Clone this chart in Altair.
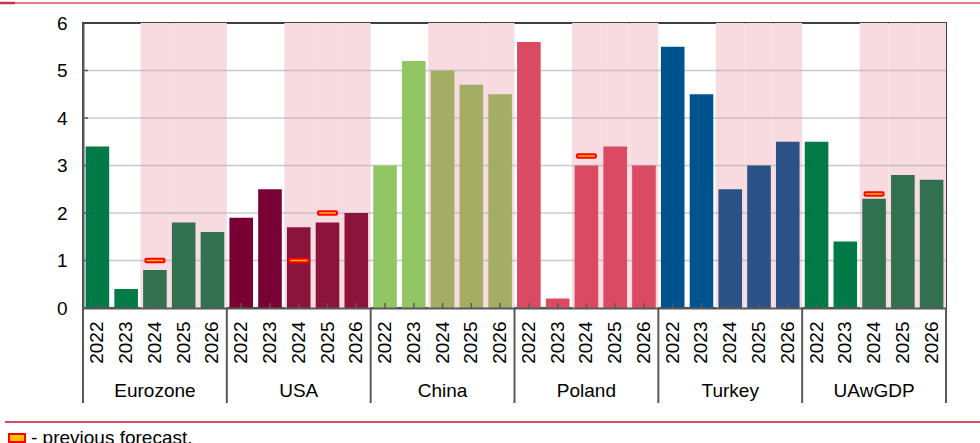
import altair as alt
import pandas as pd

# ---- data -------------------------------------------------------------
groups = ["Eurozone", "USA", "China", "Poland", "Turkey", "UAwGDP"]
years = ["2022", "2023", "2024", "2025", "2026"]
forecast_years = ["2024", "2025", "2026"]

eurozone = [3.4, 0.4, 0.8, 1.8, 1.6]
usa = [1.9, 2.5, 1.7, 1.8, 2.0]
china = [3.0, 5.2, 5.0, 4.7, 4.5]
poland = [5.6, 0.2, 3.0, 3.4, 3.0]
turkey = [5.5, 4.5, 2.5, 3.0, 3.5]
uawgdp = [3.5, 1.4, 2.3, 2.8, 2.7]
series_values = [eurozone, usa, china, poland, turkey, uawgdp]

# previous forecasts: (group, year, value)
prev_group = ["Eurozone", "USA", "USA", "Poland", "UAwGDP"]
prev_year = ["2024", "2024", "2025", "2024", "2024"]
prev_value = [1.0, 1.0, 2.0, 3.2, 2.4]

y_ticks = [0, 1, 2, 3, 4, 5, 6]

# ---- styling ------------------------------------------------------------
palette = {
    ("Eurozone", "actual"): "#007A47", ("Eurozone", "forecast"): "#31714F",
    ("USA", "actual"): "#780032", ("USA", "forecast"): "#8C143C",
    ("China", "actual"): "#92C563", ("China", "forecast"): "#A3AD63",
    ("Poland", "actual"): "#DB4A63", ("Poland", "forecast"): "#DB4A63",
    ("Turkey", "actual"): "#00538F", ("Turkey", "forecast"): "#2B5287",
    ("UAwGDP", "actual"): "#007A47", ("UAwGDP", "forecast"): "#31714F",
}
FONT = "Liberation Sans"
AXIS_GREY = "#595959"
ACCENT = "#DB4A63"
W, H = 863, 285

# ---- tables -------------------------------------------------------------
rows = []
for g, vals in zip(groups, series_values):
    for yr, v in zip(years, vals):
        kind = "forecast" if yr in forecast_years else "actual"
        rows.append({"group": g, "year": yr, "key": f"{g}|{yr}",
                     "value": v, "series": f"{g} {kind}",
                     "forecast": yr in forecast_years})
bars = pd.DataFrame(rows)
keys = list(bars["key"])
shade = bars[bars["forecast"]]
prev = pd.DataFrame({"key": [f"{g}|{y}" for g, y in zip(prev_group, prev_year)],
                     "value": prev_value})
centres = bars[bars["year"] == years[2]]
group_starts = bars[bars["key"].isin([f"{g}|{years[0]}" for g in groups[:1]])]
group_ends = bars[bars["year"] == years[-1]]
grid = pd.DataFrame({"v": y_ticks[1:-1]})
note = pd.DataFrame({"label": ["- previous forecast."]})

series_domain = [f"{g} {k}" for (g, k) in palette]
series_range = list(palette.values())

xscale = alt.Scale(domain=keys, paddingInner=0, paddingOuter=0)
yscale = alt.Scale(domain=[y_ticks[0], y_ticks[-1]], nice=False)
X = lambda **kw: alt.X("key:N", scale=xscale, sort=keys, **kw)

base_x_axis = alt.Axis(
    title=None, labelExpr="split(datum.label, '|')[1]", labelAngle=-90,
    labelFontSize=19, labelFont=FONT, labelColor="black", ticks=False,
    labelPadding=13, domainColor=AXIS_GREY, domainWidth=2,
)
base_y_axis = alt.Axis(
    title=None, values=y_ticks, labelFontSize=19, labelFont=FONT,
    labelColor="black", ticks=False, labelPadding=16, grid=False,
    domainColor=AXIS_GREY, domainWidth=2,
)

shading = alt.Chart(shade).mark_rect(color="#F7DBE0").encode(
    x=X(axis=base_x_axis),
    y=alt.datum(y_ticks[-1], scale=yscale, axis=base_y_axis),
    y2=alt.datum(y_ticks[0]),
)

gridlines = alt.Chart(grid).mark_rule(color="#B4B4B4", strokeWidth=1.5, opacity=0.7).encode(
    y=alt.Y("v:Q", scale=yscale), x=alt.value(0), x2=alt.value(W),
)

ytick_marks = alt.Chart(grid).mark_rule(color=AXIS_GREY, strokeWidth=1.5).encode(
    y=alt.Y("v:Q", scale=yscale), x=alt.value(0), x2=alt.value(5),
)

bar_layer = alt.Chart(bars).mark_bar(width={"band": 0.82}).encode(
    x=X(),
    y=alt.Y("value:Q", scale=yscale),
    color=alt.Color("series:N", scale=alt.Scale(domain=series_domain, range=series_range),
                    legend=None),
)

xtick_marks = alt.Chart(bars).mark_rule(color=AXIS_GREY, strokeWidth=1.5).encode(
    x=X(), y=alt.value(H), y2=alt.value(H - 5),
)

prev_marks = alt.Chart(prev).mark_tick(
    orient="horizontal", size=19, thickness=3.5, fill="#FFC000",
    stroke="#FF0000", strokeWidth=2, cornerRadius=1, opacity=1,
).encode(x=X(), y=alt.Y("value:Q", scale=yscale))

sep_start = alt.Chart(group_starts).mark_rule(color=AXIS_GREY, strokeWidth=2).encode(
    x=X(bandPosition=0), y=alt.value(H), y2=alt.value(H + 95),
)
sep_end = alt.Chart(group_ends).mark_rule(color=AXIS_GREY, strokeWidth=2).encode(
    x=X(bandPosition=1), y=alt.value(H), y2=alt.value(H + 95),
)

group_labels = alt.Chart(centres).mark_text(
    font=FONT, fontSize=19, color="black", baseline="middle",
).encode(x=X(), y=alt.value(H + 83), text="group:N")

top_line = alt.Chart(note).mark_rule(color=ACCENT, strokeWidth=1.5).encode(
    x=alt.value(-83), x2=alt.value(W + 34), y=alt.value(-20),
)
top_tab = alt.Chart(note).mark_rule(color="#C8374F", strokeWidth=2.5).encode(
    x=alt.value(-83), x2=alt.value(-68), y=alt.value(-20),
)
bottom_line = alt.Chart(note).mark_rule(color=ACCENT, strokeWidth=2).encode(
    x=alt.value(-78), x2=alt.value(W + 34), y=alt.value(H + 114),
)
legend_icon = alt.Chart(note).mark_rect(fill="#FFC000", stroke="#FF0000", strokeWidth=2).encode(
    x=alt.value(-74), x2=alt.value(-58), y=alt.value(H + 126), y2=alt.value(H + 134),
)
legend_text = alt.Chart(note).mark_text(
    font=FONT, fontSize=19, color="black", align="left", baseline="alphabetic",
).encode(x=alt.value(-52), y=alt.value(H + 136), text="label:N")

chart = alt.layer(
    shading, gridlines, bar_layer, ytick_marks, xtick_marks, prev_marks,
    sep_start, sep_end, group_labels,
    top_line, top_tab, bottom_line, legend_icon, legend_text,
).properties(
    width=W, height=H,
    autosize=alt.AutoSizeParams(type="none"),
    padding={"left": 83, "top": 23, "right": 34, "bottom": 135},
    background="white",
).configure_view(stroke="#404040", strokeWidth=2)

chart.save("out.html", embed_options={"renderer": "svg", "actions": False})
